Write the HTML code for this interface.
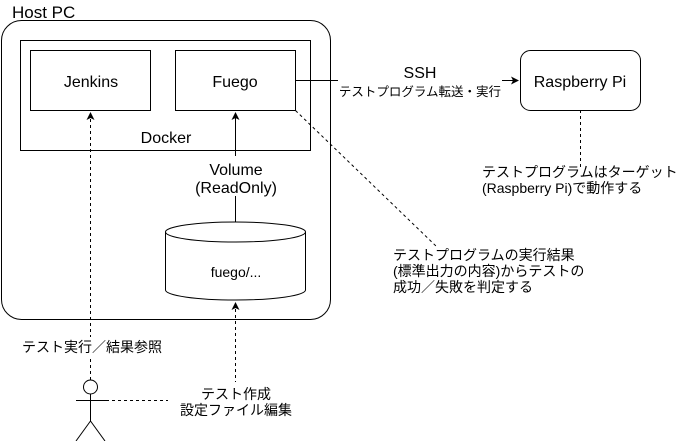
<!DOCTYPE html>
<html><head><meta charset="utf-8"><style>
body{margin:0;background:#fff}
svg text{font-family:"Liberation Sans","Noto Sans CJK JP",sans-serif;fill:#000}
</style></head><body>
<svg width="681" height="441" viewBox="0 0 681 441" xmlns="http://www.w3.org/2000/svg">
<defs><marker id="a" markerWidth="8" markerHeight="8" refX="7" refY="4" orient="auto" markerUnits="userSpaceOnUse"><path d="M0,0 L8,4 L0,8 L2,4 z" fill="#000"/></marker></defs>
<g fill="none" stroke="#000" stroke-width="1">
<rect x="1.5" y="20.5" width="329" height="299" rx="20"/>
<rect x="20.5" y="40.5" width="290" height="110" fill="#fff"/>
<rect x="30.5" y="50.5" width="120" height="60" fill="#fff"/>
<rect x="175.5" y="50.5" width="120" height="60" fill="#fff"/>
<rect x="520.5" y="50.5" width="120" height="60" rx="10" fill="#fff"/>
<path d="M165.5,232 L165.5,290 A70,10 0 0 0 305.5,290 L305.5,232" fill="#fff"/>
<ellipse cx="235.5" cy="232" rx="70" ry="10" fill="#fff"/>
<line x1="295.5" y1="80.5" x2="518" y2="80.5" marker-end="url(#a)"/>
<line x1="235.5" y1="222" x2="235.5" y2="113" marker-end="url(#a)"/>
<g stroke-dasharray="3,3">
<line x1="90.5" y1="380" x2="90.5" y2="113" marker-end="url(#a)"/>
<line x1="235.5" y1="390" x2="235.5" y2="303" marker-end="url(#a)"/>
<line x1="106" y1="400.5" x2="180" y2="400.5"/>
<line x1="580.5" y1="110" x2="580.5" y2="168"/>
<line x1="295.5" y1="110.5" x2="437" y2="247"/>
</g>
<circle cx="90.5" cy="387" r="7" fill="#fff"/>
<line x1="90.5" y1="394" x2="90.5" y2="421"/>
<line x1="76" y1="400.5" x2="106" y2="400.5"/>
<line x1="90.5" y1="421" x2="76" y2="441"/>
<line x1="90.5" y1="421" x2="105" y2="441"/>
</g>
<g font-size="16" text-anchor="middle">
<rect x="338" y="62" width="164" height="38" fill="#fff"/>
<text x="420" y="78">SSH</text>
<text x="420" y="96" font-size="12.5">テストプログラム転送・実行</text>
<text x="91" y="87">Jenkins</text>
<text x="235" y="87">Fuego</text>
<text x="166" y="143">Docker</text>
<rect x="196" y="156" width="80" height="40" fill="#fff"/>
<text x="236" y="175">Volume</text>
<text x="236" y="193">(ReadOnly)</text>
<text x="236" y="277" font-size="14">fuego/...</text>
<text x="580" y="87">Raspberry Pi</text>
<text x="12" y="18" text-anchor="start" font-size="17">Host PC</text>
<rect x="20" y="337" width="145" height="20" fill="#fff"/>
<text x="92" y="352" font-size="14">テスト実行／結果参照</text>
<rect x="168" y="382" width="136" height="38" fill="#fff"/>
<text x="236" y="399" font-size="14">テスト作成</text>
<text x="236" y="415" font-size="14">設定ファイル編集</text>
</g>
<g font-size="14">
<text x="482" y="177">テストプログラムはターゲット</text>
<text x="482" y="193">(Raspberry Pi)で動作する</text>
<text x="393" y="260">テストプログラムの実行結果</text>
<text x="393" y="276">(標準出力の内容)からテストの</text>
<text x="393" y="292">成功／失敗を判定する</text>
</g>
</svg>
</body></html>
